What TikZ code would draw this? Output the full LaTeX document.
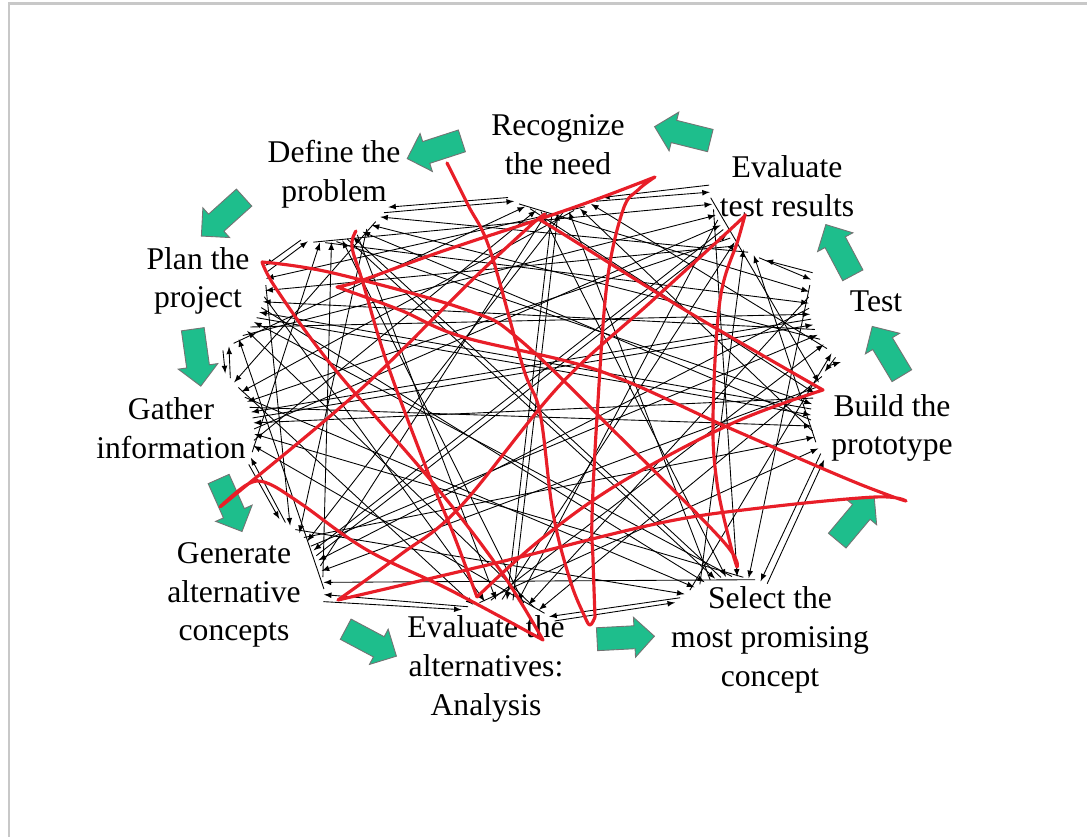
\documentclass[tikz,border=0pt]{standalone}
\usepackage{fontspec}
\setmainfont{Liberation Serif}
\usetikzlibrary{arrows,shapes.arrows,calc}
\tikzset{>=latex}
\definecolor{flowgreen}{RGB}{30,190,140}
\definecolor{scribred}{RGB}{232,30,40}
\definecolor{framegray}{RGB}{200,200,200}
\tikzset{
  stage/.style={align=center,font=\fontsize{18}{22}\selectfont,inner sep=1pt},
  flow/.style={single arrow,draw=black!55,fill=flowgreen,line width=0.5pt,
    minimum height=1.15cm,minimum width=0.8cm,single arrow head extend=0.17cm,
    inner xsep=0pt,inner ysep=0.22cm},
  web/.style={->,line width=0.5pt},
  scribble/.style={draw=scribred,line width=1.8pt,line cap=round,line join=round},
  frame/.style={draw=framegray,line width=0.06cm}
}
\begin{document}
\begin{tikzpicture}[x=0.02cm,y=-0.02cm]
        \useasboundingbox (0,0) rectangle (1087,837);
        \draw[frame] (9,837) -- (9,4) -- (1087,4);

        % stages
        \node[stage] (rec) at (558,145) {Recognize\\the need};
        \node[stage] (def) at (334,174) {Define the\\problem};
        \node[stage] (plan) at (198,281) {Plan the\\project};
        \node[stage] (gath) at (171,428) {Gather\\information};
        \node[stage] (gen) at (234,595) {Generate\\alternative\\concepts};
        \node[stage] (evalt) at (486,669) {Evaluate the\\alternatives:\\Analysis};
        \node[stage] (sel) at (770,640) {Select the\\most promising\\concept};
        \node[stage] (build) at (892,428) {Build the\\prototype};
        \node[stage] (test) at (876,301) {Test};
        \node[stage] (etr) at (787,186) {Evaluate\\test results};

        % green flow arrows
        \node[flow,rotate=198] (f1) at (440,148) {};
        \node[flow,rotate=222] (f2) at (227,213) {};
        \node[flow,rotate=-82] (f3) at (196,352) {};
        \node[flow,rotate=-66] (f4) at (228,500) {};
        \node[flow,rotate=-28] (f5) at (366,640) {};
        \node[flow,rotate=3] (f6) at (620,638) {};
        \node[flow,rotate=50] (f7) at (852,523) {};
        \node[flow,rotate=121] (f8) at (890,356) {};
        \node[flow,rotate=118] (f9) at (842,255) {};
        \node[flow,rotate=166] (f10) at (688,135) {};

        % web of arrows: every stage to every other stage
        \def\ax{{555,725,812,811,718,510,315,252,258,350}}
        \def\ay{{213,232,322,412,578,600,553,415,315,238}}
        \def\tx{{1,0.6,0.3,-0.05,-0.98,-0.99,-0.47,-0.25,0.45,0.93}}
        \def\ty{{0,0.8,0.95,1,0.2,-0.12,-0.88,-0.97,-0.9,-0.35}}
        \foreach \i in {0,...,9}{
          \foreach \j in {0,...,9}{
            \ifnum\i=\j\else
              \pgfmathtruncatemacro\dd{mod(\i-\j+10,10)}
              \pgfmathsetmacro\oj{(5-\dd)*11+3}
              \pgfmathsetmacro\oi{(\dd==1||\dd==9) ? (\dd-5)*11-3 : (5-\dd)*11-3}
              \pgfmathsetmacro\xt{\ax[\i]+(\oi)*\tx[\i]+0.007*(\oi)*(\oi)*\ty[\i]}
              \pgfmathsetmacro\yt{\ay[\i]+(\oi)*\ty[\i]-0.007*(\oi)*(\oi)*\tx[\i]}
              \pgfmathsetmacro\xh{\ax[\j]+(\oj)*\tx[\j]+0.007*(\oj)*(\oj)*\ty[\j]}
              \pgfmathsetmacro\yh{\ay[\j]+(\oj)*\ty[\j]-0.007*(\oj)*(\oj)*\tx[\j]}
              \coordinate (tl) at (\xt,\yt);
              \coordinate (hd) at (\xh,\yh);
              \draw[web] (tl) -- (hd);
            \fi
          }
        }

        % red scribble
        \draw[scribble]
          plot[smooth,tension=0.6] coordinates {(447,163) (468,205) (490,250) (523,367) (540,413) (553,513) (570,580) (584,615) (590,625) (595,617)}
          plot[smooth,tension=0.6] coordinates {(595,617) (593,560) (592,517) (597,417) (607,283) (623,210) (638,190) (655,177)}
          plot[smooth,tension=0.6] coordinates {(655,177) (600,198) (543,218) (440,252) (363,280) (337,287)}
          plot[smooth,tension=0.6] coordinates {(337,287) (400,310) (463,337) (597,370) (727,427) (840,476) (888,495) (906,501)}
          plot[smooth,tension=0.6] coordinates {(906,501) (875,497) (760,508) (660,523) (500,562) (338,600)}
          plot[smooth,tension=0.6] coordinates {(338,600) (400,555) (460,507) (560,385) (653,300) (733,227) (745,215)}
          plot[smooth,tension=0.6] coordinates {(745,215) (738,240) (720,300) (713,417) (717,483) (730,543) (737,567)}
          plot[smooth,tension=0.6] coordinates {(737,567) (722,540) (620,437) (520,340) (467,310) (333,273) (262,262)}
          plot[smooth,tension=0.6] coordinates {(262,262) (277,290) (333,367) (433,483) (500,570) (543,640)}
          plot[smooth,tension=0.6] coordinates {(543,640) (450,590) (367,550) (300,503) (267,483) (248,484) (222,505)}
          plot[smooth,tension=0.6] coordinates {(222,505) (236,494) (360,390) (470,282) (530,226) (545,214) (538,219)}
          plot[smooth,tension=0.6] coordinates {(538,219) (560,232) (690,313) (823,390)}
          plot[smooth,tension=0.6] coordinates {(823,390) (733,423) (620,483) (540,540) (477,597)}
          plot[smooth,tension=0.6] coordinates {(477,597) (453,533) (427,470) (387,363) (363,283) (352,247) (356,231)};

\end{tikzpicture}
\end{document}
